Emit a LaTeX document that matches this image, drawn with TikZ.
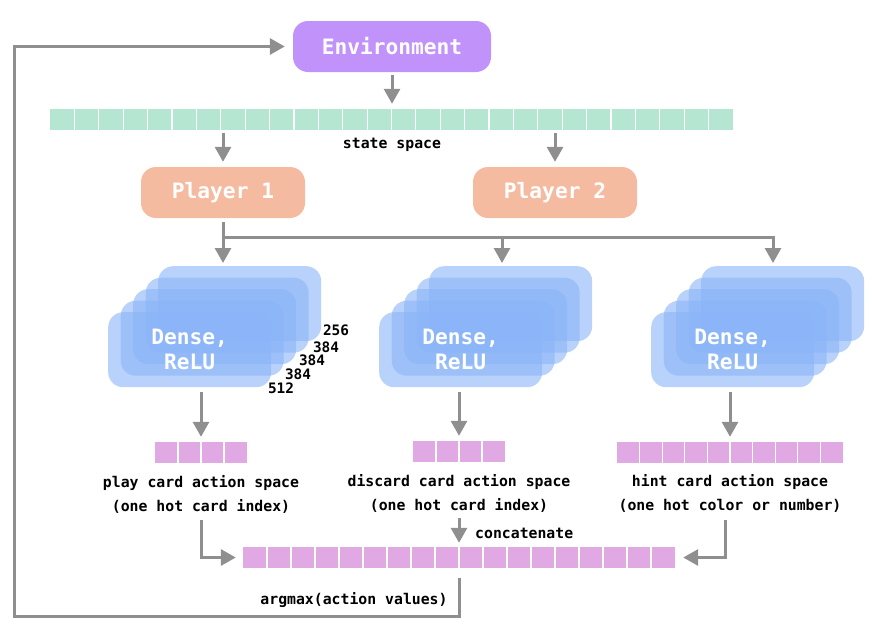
\documentclass[tikz,border=0pt]{standalone}
\usepackage{fontspec}
\setmonofont{DejaVu Sans Mono}
\usetikzlibrary{arrows.meta}
\definecolor{envc}{HTML}{C192F9}
\definecolor{plc}{HTML}{F5BBA1}
\definecolor{mintc}{HTML}{B5E6D1}
\definecolor{pinkc}{HTML}{E0A9E3}
\definecolor{layc}{HTML}{8AB4F8}
\definecolor{arrc}{HTML}{8F8F8F}
\tikzset{
  bigbox/.style={rounded corners=15pt, minimum height=51pt, text=white,
    font=\ttfamily\bfseries\fontsize{21.2}{25}\selectfont, inner sep=0pt},
  lbl/.style={font=\ttfamily\bfseries\fontsize{14.8}{24.5}\selectfont, align=center, inner sep=0pt},
  numlbl/.style={font=\ttfamily\bfseries\fontsize{14.4}{16}\selectfont, inner sep=0pt},
  denselbl/.style={font=\ttfamily\bfseries\fontsize{21.2}{25}\selectfont, text=white, align=center, inner sep=0pt},
  conn/.style={draw=arrc, line width=3pt, -{Triangle[width=16pt,length=15pt]}},
  layer/.style={fill=layc, fill opacity=0.6, rounded corners=15pt, draw=none,
    minimum width=163pt, minimum height=75pt, anchor=north west, inner sep=0pt},
  cellbar/.style={minimum height=21pt, inner sep=0pt, draw=none},
  sep/.style={draw=white, line width=1.2pt}
}
% name, cx, cy, width, separators, ncells, colour
\newcommand\cellrow[7]{%
  \node[cellbar, fill=#7, minimum width=#4pt] (#1) at (#2,#3) {};
  \foreach \k in {1,...,#5}{%
    \pgfmathsetmacro\sx{#2-#4/2+#4/#6*\k}%
    \draw[sep] (\sx, #3-10.5) -- (\sx, #3+10.5);
  }%
}
% prefix, x offset
\newcommand\densegroup[2]{%
  \foreach \i in {0,...,4}{%
    \node[layer] (#1l\i) at (158-12.5*\i+#2, 266+11.5*\i) {};
  }%
  \node[denselbl] (#1t) at (#1l4) {Dense,\\ReLU};
}
\begin{document}
\begin{tikzpicture}[x=1pt,y=-1pt]
\useasboundingbox (0,0) rectangle (885,633);

% environment
\node[bigbox, fill=envc, minimum width=198pt] (env) at (392,46.5) {Environment};

% state space
\cellrow{state}{391.5}{119.5}{683}{27}{28}{mintc}
\node[lbl] (stlbl) at (392,145) {state space};

% players
\node[bigbox, fill=plc, minimum width=164pt] (p1) at (223,192.5) {Player 1};
\node[bigbox, fill=plc, minimum width=164pt] (p2) at (555,192.5) {Player 2};

\draw[conn, shorten <=3pt, shorten >=5pt] (env.south) -- (env.south |- state.north);
\draw[conn, shorten <=3pt, shorten >=5pt] (p1.north |- state.south) -- (p1.north);
\draw[conn, shorten <=3pt, shorten >=5pt] (p2.north |- state.south) -- (p2.north);

% dense groups
\densegroup{ga}{0}
\densegroup{gb}{271}
\densegroup{gc}{543}

\node[numlbl] (n256) at (336,330) {256};
\node[numlbl] (n384a) at (326,347) {384};
\node[numlbl] (n384b) at (312,360) {384};
\node[numlbl] (n384c) at (298,374) {384};
\node[numlbl] (n512) at (281,388) {512};

% player 1 to dense groups
\coordinate (split) at (223,237);
\coordinate (cb) at (502,237);
\coordinate (cc) at (773,237);
\draw[conn, shorten <=4pt, shorten >=3pt] (p1.south) -- (p1.south |- gal0.north);
\draw[conn, shorten >=3pt] (split) -- (cc) -- (cc |- gcl0.north);
\draw[conn, shorten >=3pt] (cb) -- (cb |- gbl0.north);

% action spaces
\cellrow{play}{201}{452.5}{92}{3}{4}{pinkc}
\cellrow{disc}{459}{451.5}{92}{3}{4}{pinkc}
\cellrow{hint}{730}{452.5}{226}{9}{10}{pinkc}

\draw[conn, shorten <=5pt, shorten >=5pt] (play.north |- gal4.south) -- (play.north);
\draw[conn, shorten <=5pt, shorten >=5pt] (disc.north |- gbl4.south) -- (disc.north);
\draw[conn, shorten <=5pt, shorten >=5pt] (hint.north |- gcl4.south) -- (hint.north);

\node[lbl] (playlbl) at (201,494.5) {play card action space\\(one hot card index)};
\node[lbl] (disclbl) at (459,493.5) {discard card action space\\(one hot card index)};
\node[lbl] (hintlbl) at (730,493.5) {hint card action space\\(one hot color or number)};

% concatenated
\cellrow{concat}{459}{557.5}{432}{17}{18}{pinkc}
\coordinate (pa) at (201,520);
\coordinate (da) at (459,518);
\coordinate (ha) at (725,520);
\draw[conn, shorten >=7pt] (pa) |- (concat.west);
\draw[conn, shorten >=4pt] (da) -- (concat.north);
\draw[conn, shorten >=8pt] (ha) |- (concat.east);
\node[lbl, anchor=west] (catlbl) at (475,533) {concatenate};

% feedback loop
\coordinate (la) at (459,578);
\coordinate (lb) at (459,616);
\coordinate (lc) at (14,616);
\coordinate (ld) at (14,46.5);
\draw[conn, shorten >=8pt] (la) -- (lb) -- (lc) -- (ld) -- (env.west);
\node[lbl] (amlbl) at (354,600) {argmax(action values)};
\end{tikzpicture}
\end{document}
